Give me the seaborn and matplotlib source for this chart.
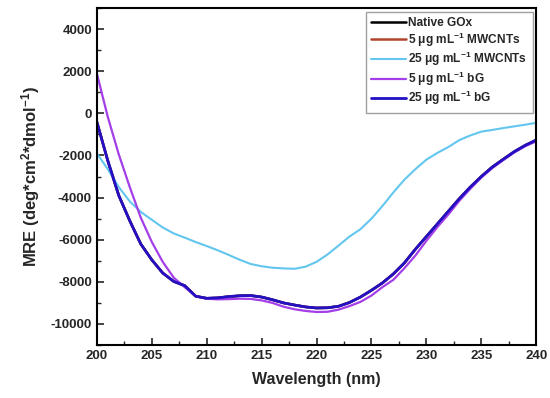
import numpy as np
import pandas as pd
import matplotlib
matplotlib.use("Agg")
import matplotlib.pyplot as plt
import seaborn as sns
from matplotlib.ticker import MultipleLocator

# wavelength grid (nm) and MRE values
wavelength = list(range(200, 241))

bg_25 = [-400, -2250, -3900, -5100, -6200, -6950, -7580, -7980, -8180, -8680,
         -8780, -8760, -8700, -8660, -8650, -8720, -8850, -9000, -9100, -9190,
         -9240, -9230, -9160, -8980, -8720, -8400, -8050, -7620, -7100, -6450,
         -5850, -5250, -4650, -4050, -3500, -3000, -2550, -2180, -1820, -1520,
         -1270]
bg_5 = [1900, -170, -1950, -3500, -4950, -6100, -7050, -7800, -8250, -8680,
        -8800, -8830, -8820, -8800, -8810, -8880, -9000, -9180, -9300, -9380,
        -9430, -9420, -9320, -9150, -8950, -8650, -8250, -7900, -7350, -6750,
        -6050, -5400, -4800, -4150, -3580, -3050, -2600, -2220, -1860, -1560,
        -1330]
mwcnt_25 = [-1900, -2650, -3500, -4180, -4680, -5050, -5420, -5700, -5900, -6110,
            -6300, -6500, -6720, -6950, -7150, -7260, -7330, -7360, -7380, -7280,
            -7050, -6700, -6280, -5850, -5500, -5000, -4400, -3750, -3150, -2650,
            -2200, -1880, -1600, -1270, -1050, -870, -790, -700, -620, -540,
            -450]
# native and 5 ug/mL MWCNTs lie under the 25 ug/mL bG trace
native = list(bg_25)
mwcnt_5 = list(bg_25)

labels = ["Native GOx",
          "5 μg mL$^{-1}$ MWCNTs",
          "25 μg mL$^{-1}$ MWCNTs",
          "5 μg mL$^{-1}$ bG",
          "25 μg mL$^{-1}$ bG"]
series = [native, mwcnt_5, mwcnt_25, bg_5, bg_25]
colors = ["#000000", "#b0452c", "#63c6ef", "#a43ee8", "#2410c4"]
widths = [1.8, 1.8, 1.5, 1.6, 2.0]

rows = []
for lab, vals in zip(labels, series):
    for w, v in zip(wavelength, vals):
        rows.append({"wl": w, "mre": v, "sample": lab})
df = pd.DataFrame(rows)

sns.set_style("ticks")
plt.rcParams["font.family"] = ["Liberation Sans", "DejaVu Sans"]
plt.rcParams["font.weight"] = "bold"
plt.rcParams["mathtext.fontset"] = "custom"
plt.rcParams["mathtext.rm"] = "Liberation Sans:bold"
plt.rcParams["mathtext.default"] = "rm"
plt.rcParams["axes.unicode_minus"] = False

fig = plt.figure(figsize=(5.5, 3.98), dpi=100)
ax = fig.add_axes([0.176, 0.133, 0.799, 0.847])

sns.lineplot(data=df, x="wl", y="mre", hue="sample", hue_order=labels,
             palette=colors, ax=ax, legend=True)
for line, lw in zip(ax.lines, widths):
    line.set_linewidth(lw)

ax.set_xlim(200, 240)
ax.set_ylim(-11000, 5000)
ax.xaxis.set_major_locator(MultipleLocator(5))
ax.xaxis.set_minor_locator(MultipleLocator(2.5))
ax.yaxis.set_major_locator(MultipleLocator(2000))
ax.yaxis.set_minor_locator(MultipleLocator(1000))
ax.set_yticks(range(-10000, 4001, 2000))
ax.tick_params(which="major", direction="in", length=5, width=1.2, labelsize=9.5)
ax.tick_params(which="minor", direction="in", length=3, width=1.0)
for lab in ax.get_xticklabels() + ax.get_yticklabels():
    lab.set_fontweight("bold")
for sp in ax.spines.values():
    sp.set_linewidth(1.5)
    sp.set_color("black")

ax.set_xlabel("Wavelength (nm)", fontsize=11.5, fontweight="bold", labelpad=7)
ax.set_ylabel("MRE (deg*cm$^{2}$*dmol$^{-1}$)", fontsize=12, fontweight="bold",
              labelpad=6)

leg = ax.legend(loc="upper right", fontsize=8.6, frameon=True, fancybox=False,
                handlelength=2.9, borderaxespad=0.3, labelspacing=0.12,
                handletextpad=0.2, borderpad=0.45)
leg.get_frame().set_edgecolor("#888888")
leg.get_frame().set_linewidth(1.0)
for h, lw in zip(leg.get_lines(), widths):
    h.set_linewidth(lw)
for t in leg.get_texts():
    t.set_fontweight("bold")

fig.savefig("out.png", dpi=100)
